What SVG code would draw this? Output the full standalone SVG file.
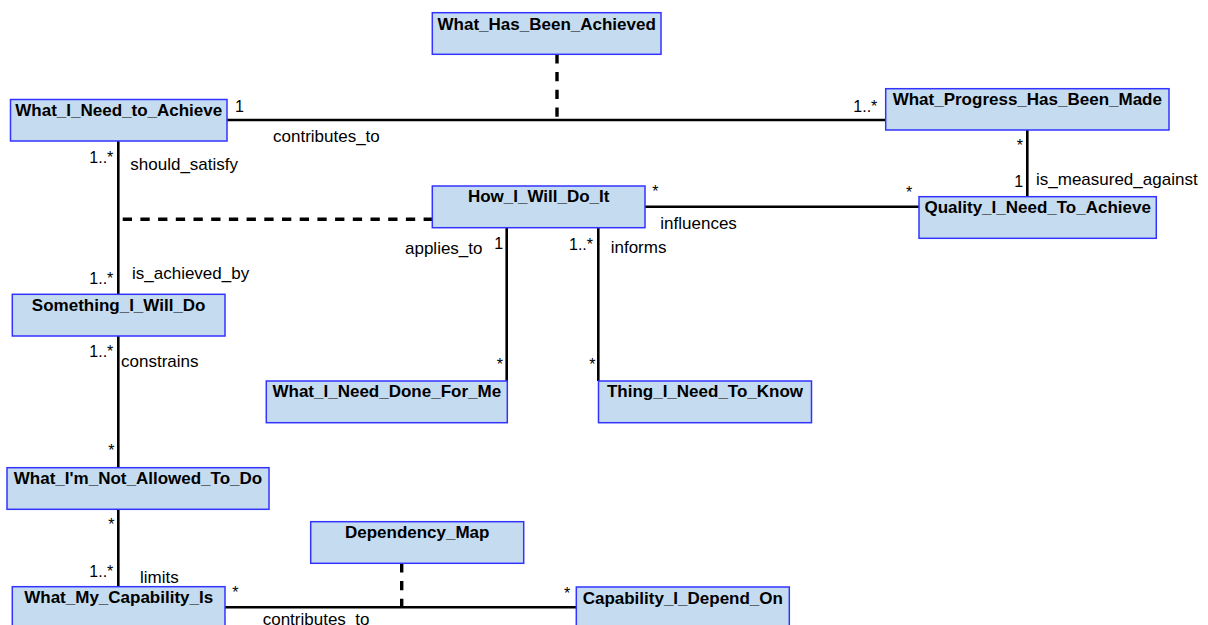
<svg xmlns="http://www.w3.org/2000/svg" width="1208" height="625" viewBox="0 0 1208 625">
  <style>
    .node rect { fill: #C5DCF0; stroke: #3333FF; stroke-width: 1.5; }
    .node text { font-family: "Liberation Sans", Arial, sans-serif; font-weight: bold; font-size: 17px; fill: #000; text-anchor: middle; }
    .edge { fill: none; stroke: #000; stroke-width: 2.6; }
    .dash { fill: none; stroke: #000; stroke-width: 3.4; stroke-dasharray: 9.3 8.4; }
    .lbl { font-family: "Liberation Sans", Arial, sans-serif; font-size: 17px; fill: #000; }
    .mult { font-family: "Liberation Sans", Arial, sans-serif; font-size: 16px; fill: #000; }
  </style>
  <rect width="1208" height="625" fill="#FFFFFF"/>

  <!-- associations -->
  <g id="connectors">
    <path class="edge" d="M227 120 H885.7"/>
    <path class="dash" d="M557 54.3 V120"/>
    <path class="edge" d="M118.3 141 V294.3"/>
    <path class="dash" d="M122.7 219.3 H432.3"/>
    <path class="edge" d="M118.3 336 V467.7"/>
    <path class="edge" d="M118.3 509.3 V586.7"/>
    <path class="edge" d="M645 206.7 H919"/>
    <path class="edge" d="M1027.3 130 V196.7"/>
    <path class="edge" d="M506.7 227.7 V381"/>
    <path class="edge" d="M598.3 227.7 V381"/>
    <path class="edge" d="M225 607.3 H576.3"/>
    <path class="dash" d="M401.7 563.3 V607.3"/>

    <!-- role names -->
    <text class="lbl" x="273" y="142.3">contributes_to</text>
    <text class="lbl" x="130.3" y="169.5">should_satisfy</text>
    <text class="lbl" x="132" y="279.3">is_achieved_by</text>
    <text class="lbl" x="121" y="366.7">constrains</text>
    <text class="lbl" x="140" y="582.7">limits</text>
    <text class="lbl" x="262.7" y="624.5">contributes_to</text>
    <text class="lbl" x="405" y="254">applies_to</text>
    <text class="lbl" x="610.7" y="253.3">informs</text>
    <text class="lbl" x="660.3" y="229.3">influences</text>
    <text class="lbl" x="1036" y="185">is_measured_against</text>

    <!-- multiplicities -->
    <text class="mult" x="235" y="112.3">1</text>
    <text class="mult" x="853.3" y="112.3">1..*</text>
    <text class="mult" x="89.3" y="162.7">1..*</text>
    <text class="mult" x="89.3" y="284">1..*</text>
    <text class="mult" x="89.3" y="357.3">1..*</text>
    <text class="mult" x="108.3" y="456.4">*</text>
    <text class="mult" x="108.3" y="530.4">*</text>
    <text class="mult" x="89.3" y="576.7">1..*</text>
    <text class="mult" x="232.3" y="598.4">*</text>
    <text class="mult" x="564" y="599">*</text>
    <text class="mult" x="494.3" y="249.3">1</text>
    <text class="mult" x="569" y="250">1..*</text>
    <text class="mult" x="652.3" y="197.4">*</text>
    <text class="mult" x="906" y="198">*</text>
    <text class="mult" x="1016.7" y="150.7">*</text>
    <text class="mult" x="1014.3" y="186.7">1</text>
    <text class="mult" x="496.7" y="369.7">*</text>
    <text class="mult" x="589.3" y="369.7">*</text>
  </g>

  <!-- classes -->
  <g id="what_i_need_to_achieve" class="node">
    <rect x="10.5" y="99.5" width="216.5" height="41.5"/>
    <text x="118.75" y="116">What_I_Need_to_Achieve</text>
  </g>
  <g id="what_has_been_achieved" class="node">
    <rect x="432.3" y="12.7" width="228.7" height="41.6"/>
    <text x="546.7" y="30">What_Has_Been_Achieved</text>
  </g>
  <g id="what_progress_has_been_made" class="node">
    <rect x="885.7" y="88.7" width="283.3" height="41.3"/>
    <text x="1027.3" y="105.3">What_Progress_Has_Been_Made</text>
  </g>
  <g id="how_i_will_do_it" class="node">
    <rect x="432.3" y="186" width="212.7" height="41.7"/>
    <text x="538.7" y="202">How_I_Will_Do_It</text>
  </g>
  <g id="quality_i_need_to_achieve" class="node">
    <rect x="919" y="196.7" width="237.3" height="41.6"/>
    <text x="1037.7" y="212.7">Quality_I_Need_To_Achieve</text>
  </g>
  <g id="something_i_will_do" class="node">
    <rect x="12.3" y="294.3" width="212.7" height="41.7"/>
    <text x="118.7" y="311.3">Something_I_Will_Do</text>
  </g>
  <g id="what_i_need_done_for_me" class="node">
    <rect x="266.3" y="381" width="241" height="41.7"/>
    <text x="386.8" y="396.7">What_I_Need_Done_For_Me</text>
  </g>
  <g id="thing_i_need_to_know" class="node">
    <rect x="598.5" y="381" width="213" height="41.7"/>
    <text x="705" y="396.7">Thing_I_Need_To_Know</text>
  </g>
  <g id="what_im_not_allowed_to_do" class="node">
    <rect x="7" y="467.7" width="262" height="41.6"/>
    <text x="138" y="484">What_I'm_Not_Allowed_To_Do</text>
  </g>
  <g id="dependency_map" class="node">
    <rect x="310.7" y="521.7" width="213" height="41.6"/>
    <text x="417.2" y="538.3">Dependency_Map</text>
  </g>
  <g id="what_my_capability_is" class="node">
    <rect x="12.3" y="586.7" width="212.7" height="41.6"/>
    <text x="118.7" y="603.3">What_My_Capability_Is</text>
  </g>
  <g id="capability_i_depend_on" class="node">
    <rect x="576.3" y="587" width="213" height="41.6"/>
    <text x="682.8" y="603.7">Capability_I_Depend_On</text>
  </g>
</svg>
